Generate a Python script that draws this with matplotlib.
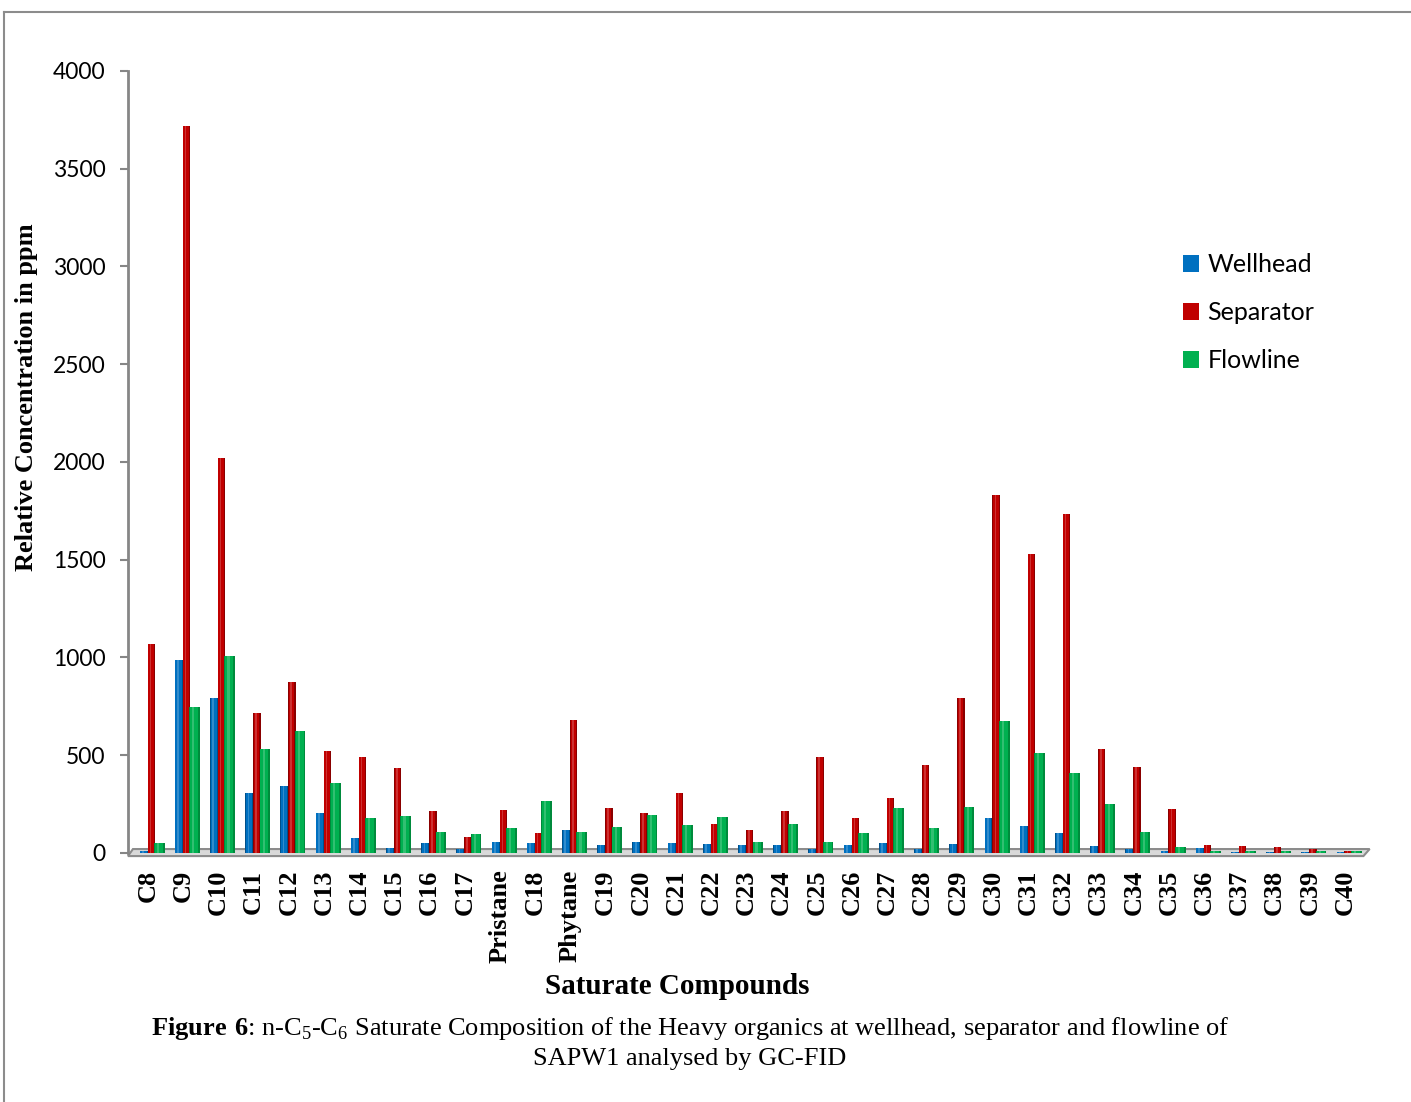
import numpy as np
import matplotlib.pyplot as plt
from matplotlib.lines import Line2D
from matplotlib.patches import Polygon, Patch

plt.rcParams['mathtext.fontset'] = 'custom'
plt.rcParams['mathtext.rm'] = 'Liberation Serif'
plt.rcParams['mathtext.bf'] = 'Liberation Serif:bold'

# GC-FID saturate concentrations (ppm)
compounds = ['C8', 'C9', 'C10', 'C11', 'C12', 'C13', 'C14', 'C15', 'C16', 'C17',
             'Pristane', 'C18', 'Phytane', 'C19', 'C20', 'C21', 'C22', 'C23', 'C24',
             'C25', 'C26', 'C27', 'C28', 'C29', 'C30', 'C31', 'C32', 'C33', 'C34',
             'C35', 'C36', 'C37', 'C38', 'C39', 'C40']
wellhead = [10, 987, 793, 307, 343, 205, 77, 26, 51, 20,
            56, 51, 118, 41, 56, 51, 46, 41, 41,
            18, 41, 51, 20, 46, 179, 138, 102, 36, 20,
            10, 26, 5, 5, 5, 3]
separator = [1069, 3719, 2020, 716, 875, 522, 491, 435, 215, 82,
             220, 102, 680, 230, 205, 307, 148, 118, 215,
             491, 179, 281, 450, 793, 1831, 1529, 1734, 532, 440,
             225, 42, 38, 28, 18, 10]
flowline = [50, 747, 1007, 532, 624, 358, 179, 189, 107, 97,
            128, 266, 107, 133, 194, 143, 184, 56, 148,
            56, 102, 230, 128, 235, 675, 512, 409, 251, 107,
            31, 10, 10, 8, 8, 8]

series = [('Wellhead', wellhead, '#0070C0', '#00508A', -0.12, 0.24),
          ('Separator', separator, '#C00000', '#8A0000', 0.09, 0.21),
          ('Flowline', flowline, '#00B050', '#008A3C', 0.32, 0.30)]

fig = plt.figure(figsize=(14.11, 11.02), dpi=100)
ax = fig.add_axes([0.0907, 0.226, 0.880, 0.7096])

x = np.arange(len(compounds))
handles = []
for name, vals, col, dark, off, w in series:
    # shaded cylinder look: dark rim, base colour core, light highlight
    ax.bar(x + off, vals, w, color=dark, linewidth=0, zorder=3)
    ax.bar(x + off - w * 0.05, vals, w * 0.75, color=col, linewidth=0, zorder=4)
    ax.bar(x + off - w * 0.12, vals, w * 0.2, color='white', alpha=0.2, linewidth=0, zorder=5)
    handles.append(Patch(facecolor=col, label=name))

# floor of the plot
floor = Polygon([(0.004, 0.005), (1.0, 0.005), (0.995, -0.004), (0.0, -0.004)],
                closed=True, transform=ax.transAxes, facecolor='#d9d9d9',
                edgecolor='#8c8c8c', lw=1.5, clip_on=False, zorder=2)
ax.add_patch(floor)

ax.set_xlim(-0.57, 34.7)
ax.set_ylim(0, 4000)
ax.set_yticks(range(0, 4001, 500))
ax.set_xticks(x)
ax.set_xticklabels(compounds, rotation=90, fontfamily='Liberation Serif',
                   fontweight='bold', fontsize=19)
for lab in ax.get_yticklabels():
    lab.set_fontfamily('Lato')
    lab.set_fontsize(16.5)

for s in ['top', 'right', 'bottom']:
    ax.spines[s].set_visible(False)
ax.spines['left'].set_color('#868686')
ax.spines['left'].set_linewidth(2)
ax.tick_params(axis='y', direction='out', length=6, width=1.5, color='#868686', pad=10)
ax.tick_params(axis='x', length=0, pad=12)

fig.text(677 / 1411, 1 - 987 / 1102, 'Saturate Compounds', ha='center', va='center',
         fontfamily='Liberation Serif', fontweight='bold', fontsize=21)
fig.text(27 / 1411, 1 - 397 / 1102, 'Relative Concentration in ppm', rotation=90,
         ha='center', va='center', fontfamily='Liberation Serif', fontweight='bold',
         fontsize=19)

leg = fig.legend(handles=handles, loc='upper left', bbox_to_anchor=(1160 / 1411, 1 - 231 / 1102),
                 frameon=False, prop={'family': 'Lato', 'size': 18}, handlelength=0.64,
                 handleheight=0.64, handletextpad=0.35, labelspacing=1.0)

fig.text(690 / 1411, 1 - 1028 / 1102,
         r'$\mathbf{Figure\ 6}$: n-C$_5$-C$_6$ Saturate Composition of the Heavy organics '
         'at wellhead, separator and flowline of',
         ha='center', va='center', fontfamily='Liberation Serif', fontsize=19)
fig.text(690 / 1411, 1 - 1059 / 1102, 'SAPW1 analysed by GC-FID',
         ha='center', va='center', fontfamily='Liberation Serif', fontsize=19)

# page frame
fig.add_artist(Line2D([4 / 1411, 1], [1 - 12 / 1102] * 2, color='#8c8c8c', lw=1.5))
fig.add_artist(Line2D([4 / 1411] * 2, [0, 1 - 12 / 1102], color='#8c8c8c', lw=1.5))

fig.savefig('out.png', dpi=100)
